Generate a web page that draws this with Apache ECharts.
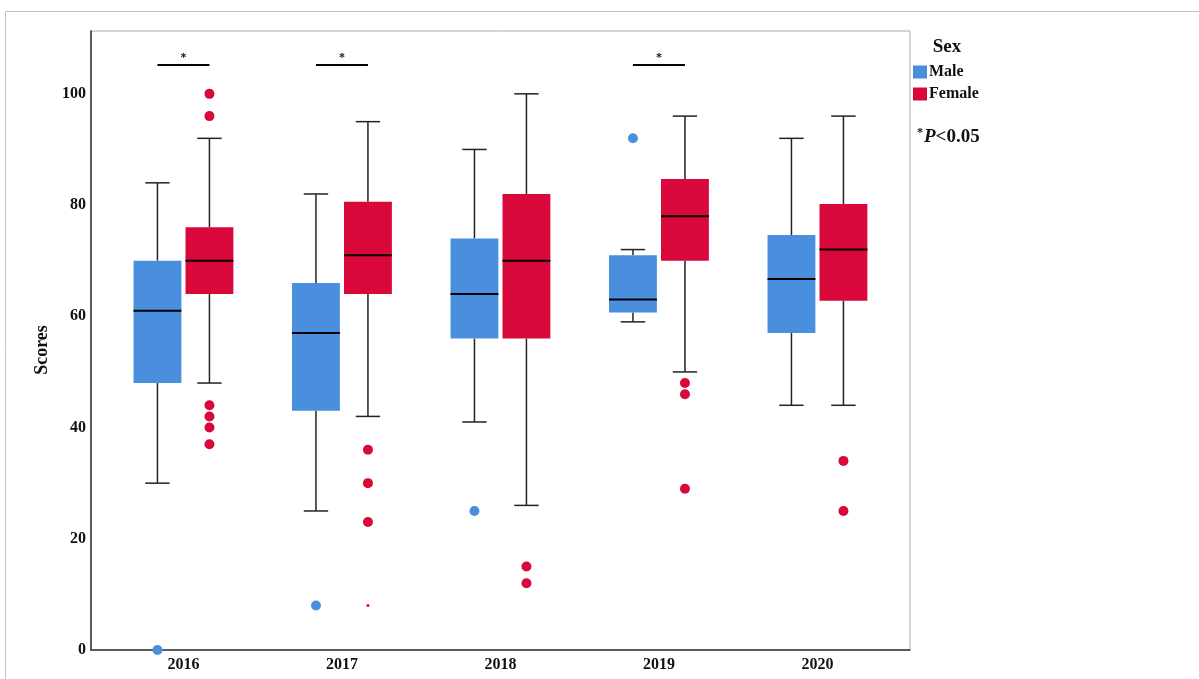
<!DOCTYPE html>
<html>
<head>
<meta charset="utf-8">
<script src="https://cdn.jsdelivr.net/npm/echarts@6/dist/echarts.min.js"></script>
<style>html,body{margin:0;padding:0;background:#fff}#c{width:1199px;height:679px}</style>
</head>
<body>
<div id="c"></div>
<script>
// ---- data ----
var categories = ['2016', '2017', '2018', '2019', '2020'];
var seriesNames = ['Male', 'Female'];
// [min, Q1, median, Q3, max] per year
var maleStats = [
  [30, 48, 61, 70, 84],
  [25, 43, 57, 66, 82],
  [41, 56, 64, 74, 90],
  [59, 60.7, 63, 71, 72],
  [44, 57, 66.7, 74.6, 92]
];
var femaleStats = [
  [48, 64, 70, 76, 92],
  [42, 64, 71, 80.6, 95],
  [26, 56, 70, 82, 100],
  [50, 70, 78, 84.7, 96],
  [44, 62.8, 72, 80.2, 96]
];
// outliers: [yearIndex, score]
var maleOutliers = [[0, 0], [1, 8], [2, 25], [3, 92]];
var femaleOutliers = [
  [0, 100], [0, 96], [0, 44], [0, 42], [0, 40], [0, 37],
  [1, 36], [1, 30], [1, 23],
  [2, 15], [2, 12],
  [3, 48], [3, 46], [3, 29],
  [4, 34], [4, 25]
];
var femaleSmallPoints = [[1, 8]];
var sigYears = ['2016', '2017', '2019'];
var sigLevel = 105.2;
var yTicks = [0, 20, 40, 60, 80, 100];

// ---- styles ----
var MALE = '#4A8FDD';
var FEMALE = '#D9083B';
var FONT = '"Liberation Serif", "Times New Roman", serif';
var OFF = 0.164, HALF = 0.151, CAP = 0.077;

function boxData(stats) {
  return stats.map(function (s, i) { return [i].concat(s); });
}

function boxRenderer(sign, color) {
  return function (params, api) {
    var cat = api.value(0);
    var band = api.size([1, 0])[0];
    var cx = api.coord([cat, 0])[0] + sign * band * OFF;
    var hw = band * HALF, cw = band * CAP;
    var y = [1, 2, 3, 4, 5].map(function (d) { return api.coord([cat, api.value(d)])[1]; });
    var ls = { stroke: '#222', lineWidth: 1.5 };
    return {
      type: 'group',
      children: [
        { type: 'line', shape: { x1: cx, y1: y[0], x2: cx, y2: y[1] }, style: ls },
        { type: 'line', shape: { x1: cx, y1: y[3], x2: cx, y2: y[4] }, style: ls },
        { type: 'line', shape: { x1: cx - cw, y1: y[0], x2: cx + cw, y2: y[0] }, style: ls },
        { type: 'line', shape: { x1: cx - cw, y1: y[4], x2: cx + cw, y2: y[4] }, style: ls },
        { type: 'rect', shape: { x: cx - hw, y: y[3], width: 2 * hw, height: y[1] - y[3] }, style: { fill: color } },
        { type: 'line', shape: { x1: cx - hw, y1: y[2], x2: cx + hw, y2: y[2] }, style: { stroke: '#000', lineWidth: 2 } }
      ]
    };
  };
}

function sigRenderer(params, api) {
  var cat = api.value(0);
  var band = api.size([1, 0])[0];
  var c = api.coord([cat, api.value(1)]);
  var x1 = c[0] - band * OFF, x2 = c[0] + band * OFF;
  return {
    type: 'group',
    children: [
      { type: 'line', shape: { x1: x1, y1: c[1], x2: x2, y2: c[1] }, style: { stroke: '#000', lineWidth: 2 } },
      { type: 'text', x: c[0], y: c[1] - 1, style: { text: '*', font: 'bold 12px ' + FONT, fill: '#111', align: 'center', verticalAlign: 'bottom' } }
    ]
  };
}

var chart = echarts.init(document.getElementById('c'), null, { renderer: 'canvas' });
var gridA = { left: 91, top: 31, width: 819, height: 619, show: true, borderColor: '#a8a8a8', borderWidth: 1, backgroundColor: 'transparent' };
var gridB = { left: 104.2, top: 31, width: 792.5, height: 619 };
var yMax = 111.3;
var labelStyle = { color: '#111', fontFamily: FONT, fontWeight: 'bold', fontSize: 16 };

chart.setOption({
  animation: false,
  backgroundColor: '#fff',
  grid: [gridA, gridB],
  xAxis: [
    { gridIndex: 0, type: 'value', min: 0, max: 1, axisLine: { show: true, onZero: false, lineStyle: { color: '#333', width: 1.5 } }, axisTick: { show: false }, axisLabel: { show: false }, splitLine: { show: false } },
    { gridIndex: 1, type: 'category', data: categories, boundaryGap: true, axisLine: { show: false }, axisTick: { show: false }, splitLine: { show: false },
      axisLabel: Object.assign({ margin: 7 }, labelStyle) }
  ],
  yAxis: [
    { gridIndex: 0, type: 'value', min: 0, max: yMax, interval: 20, axisLine: { show: true, lineStyle: { color: '#333', width: 1.5 } }, axisTick: { show: false }, splitLine: { show: false },
      axisLabel: Object.assign({ margin: 5, showMaxLabel: false,
        formatter: function (v) { return yTicks.indexOf(v) >= 0 ? String(v) : ''; } }, labelStyle) },
    { gridIndex: 1, type: 'value', min: 0, max: yMax, show: false }
  ],
  legend: {
    orient: 'vertical', left: 913, top: 64, padding: 0, itemWidth: 14, itemHeight: 13, itemGap: 6,
    textStyle: { color: '#111', fontFamily: FONT, fontWeight: 'bold', fontSize: 16, padding: [0, 0, 0, -3] },
    data: [{ name: 'Male', icon: 'rect' }, { name: 'Female', icon: 'rect' }]
  },
  graphic: [
    { type: 'rect', shape: { x: 5.5, y: 11.5, width: 1300, height: 800 }, style: { fill: 'none', stroke: '#c4c4c4', lineWidth: 1 }, z: -10 },
    { type: 'text', x: 42, y: 350, rotation: Math.PI / 2, style: { text: 'Scores', font: 'bold 18px ' + FONT, fill: '#111', align: 'center', verticalAlign: 'middle' } },
    { type: 'text', x: 947, y: 47, style: { text: 'Sex', font: 'bold 19px ' + FONT, fill: '#111', align: 'center', verticalAlign: 'middle' } },
    { type: 'text', x: 917, y: 137, style: {
      text: '{s|*}{p|P}{t|<0.05}', verticalAlign: 'middle', align: 'left',
      rich: {
        s: { font: 'bold 12px ' + FONT, fill: '#111', verticalAlign: 'top', padding: [0, 1, 9, 0] },
        p: { font: 'italic bold 19px ' + FONT, fill: '#111' },
        t: { font: 'bold 19px ' + FONT, fill: '#111' }
      } } }
  ],
  series: [
    { name: 'Male', type: 'custom', xAxisIndex: 1, yAxisIndex: 1, itemStyle: { color: MALE }, renderItem: boxRenderer(-1, MALE), data: boxData(maleStats), encode: { x: 0, y: [1, 2, 3, 4, 5] }, z: 2 },
    { name: 'Female', type: 'custom', xAxisIndex: 1, yAxisIndex: 1, itemStyle: { color: FEMALE }, renderItem: boxRenderer(1, FEMALE), data: boxData(femaleStats), encode: { x: 0, y: [1, 2, 3, 4, 5] }, z: 2 },
    { name: 'Male', type: 'scatter', xAxisIndex: 1, yAxisIndex: 1, symbolSize: 10, symbolOffset: [-26, 0], itemStyle: { color: MALE, opacity: 1 }, data: maleOutliers, clip: false, z: 3 },
    { name: 'Female', type: 'scatter', xAxisIndex: 1, yAxisIndex: 1, symbolSize: 10, symbolOffset: [26, 0], itemStyle: { color: FEMALE, opacity: 1 }, data: femaleOutliers, clip: false, z: 3 },
    { name: 'Female', type: 'scatter', xAxisIndex: 1, yAxisIndex: 1, symbolSize: 3, symbolOffset: [26, 0], itemStyle: { color: FEMALE, opacity: 1 }, data: femaleSmallPoints, z: 3 },
    { name: 'sig', type: 'custom', xAxisIndex: 1, yAxisIndex: 1, renderItem: sigRenderer,
      data: sigYears.map(function (y) { return [categories.indexOf(y), sigLevel]; }), encode: { x: 0, y: 1 }, z: 4 }
  ]
});
</script>
</body>
</html>
